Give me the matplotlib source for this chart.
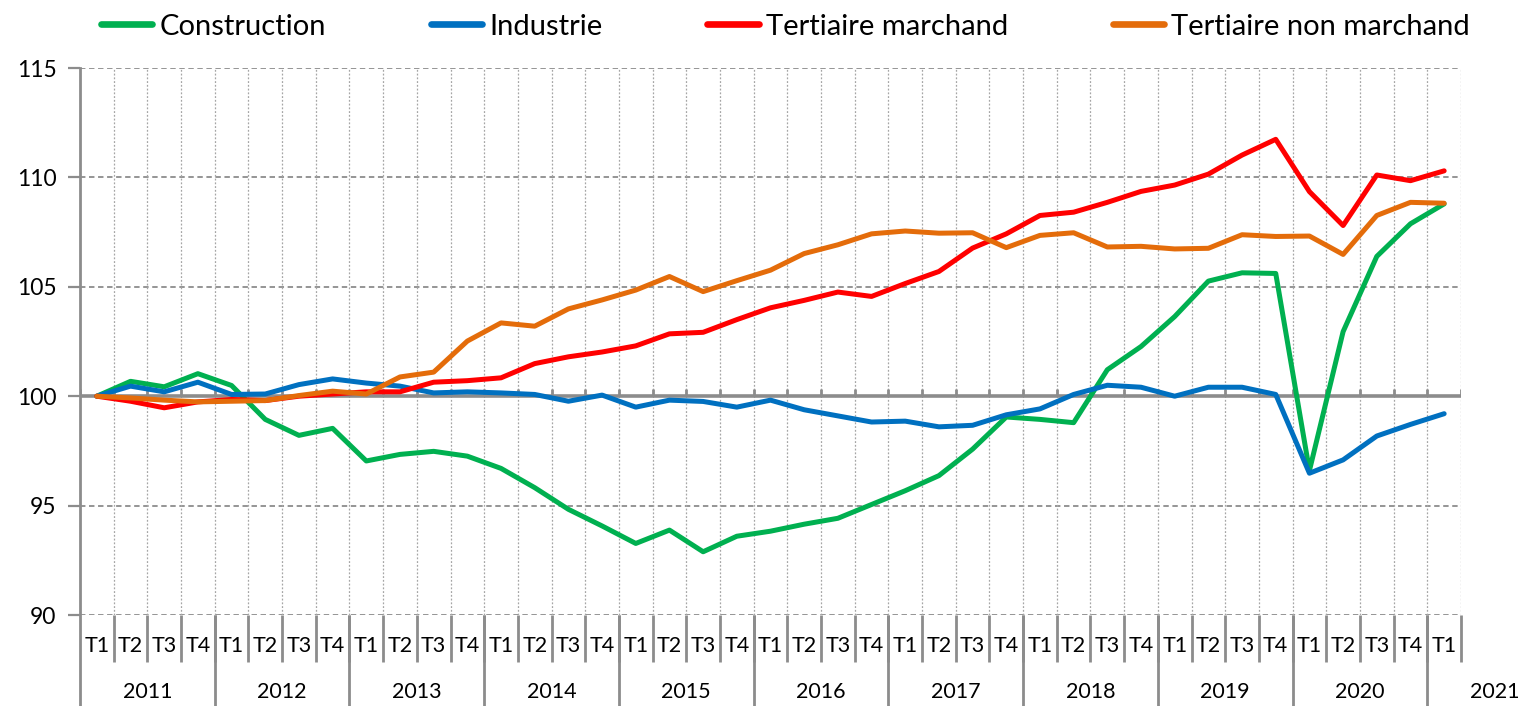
import matplotlib
matplotlib.use("Agg")
import matplotlib.pyplot as plt
import matplotlib.transforms as mtransforms
from matplotlib.lines import Line2D

# ---------------- data ----------------
quarters = ["T1", "T2", "T3", "T4"] * 10 + ["T1"]
years = ["2011", "2012", "2013", "2014", "2015", "2016", "2017", "2018", "2019", "2020", "2021"]
series_names = ["Construction", "Industrie", "Tertiaire marchand", "Tertiaire non marchand"]

construction = [100.0, 100.68, 100.43, 101.03, 100.49, 98.94, 98.21, 98.53, 97.04, 97.34,
                97.48, 97.26, 96.70, 95.82, 94.83, 94.07, 93.27, 93.88, 92.89, 93.60,
                93.83, 94.15, 94.42, 95.05, 95.68, 96.37, 97.58, 99.05, 98.94, 98.79,
                101.21, 102.27, 103.64, 105.26, 105.64, 105.61, 96.60, 102.95, 106.39, 107.88,
                108.79]
industrie = [100.0, 100.46, 100.20, 100.64, 100.08, 100.10, 100.53, 100.79, 100.60, 100.46,
             100.15, 100.20, 100.15, 100.08, 99.77, 100.05, 99.50, 99.82, 99.76, 99.50,
             99.82, 99.38, 99.10, 98.82, 98.86, 98.60, 98.67, 99.15, 99.42, 100.08,
             100.50, 100.41, 100.00, 100.41, 100.41, 100.08, 96.48, 97.09, 98.18, 98.71,
             99.20]
tertiaire_marchand = [100.0, 99.77, 99.47, 99.74, 99.85, 99.80, 100.00, 100.10, 100.20, 100.20,
                      100.64, 100.71, 100.84, 101.49, 101.80, 102.02, 102.30, 102.85, 102.92, 103.50,
                      104.04, 104.38, 104.76, 104.56, 105.15, 105.70, 106.77, 107.42, 108.26, 108.41,
                      108.86, 109.36, 109.65, 110.15, 111.02, 111.74, 109.35, 107.80, 110.11, 109.85,
                      110.30]
tertiaire_non_marchand = [100.0, 99.92, 99.82, 99.74, 99.77, 99.80, 100.03, 100.23, 100.10, 100.88,
                          101.10, 102.52, 103.35, 103.20, 103.99, 104.40, 104.85, 105.47, 104.78, 105.28,
                          105.76, 106.52, 106.92, 107.42, 107.55, 107.45, 107.47, 106.79, 107.35, 107.47,
                          106.82, 106.85, 106.73, 106.76, 107.38, 107.30, 107.32, 106.48, 108.26, 108.86,
                          108.82]
y_ticks = [90, 95, 100, 105, 110, 115]

series = [construction, industrie, tertiaire_marchand, tertiaire_non_marchand]
colors = ["#00B050", "#0070C0", "#FF0000", "#E46C0A"]

# ---------------- style ----------------
plt.rcParams['font.family'] = ['Lato', 'DejaVu Sans']
GRID = "#8C8C8C"
AXIS = "#8C8C8C"

W, H = 1521, 706
fig = plt.figure(figsize=(W / 100, H / 100), dpi=100)
ax_left, ax_right, ax_top, ax_bot = 80, 1461, 68, 615
ax = fig.add_axes([ax_left / W, (H - ax_bot) / H, (ax_right - ax_left) / W, (ax_bot - ax_top) / H])

n = len(quarters)
xs = list(range(n))
ax.set_xlim(-0.5, n - 0.5)
ax.set_ylim(min(y_ticks), max(y_ticks))

for s in ax.spines.values():
    s.set_visible(False)

# horizontal dashed gridlines
for yv in y_ticks:
    if yv != 100:
        ax.axhline(yv, color=GRID, lw=1.3, ls=(0, (3, 2)), zorder=1)
# vertical dotted gridlines at category boundaries
bounds = [k - 0.5 for k in range(1, n + 1)]
ax.vlines(bounds, min(y_ticks), max(y_ticks), colors="#A6A6A6", lw=0.9, linestyles=(0, (1.5, 1.5)), zorder=1)

# category axis crossing at 100 with tick marks
ax.axhline(100, color=AXIS, lw=2.6, zorder=2)
ax.vlines([k - 0.5 for k in range(0, n + 1)], 100, 100.32, colors=AXIS, lw=2.0, zorder=2)

# series
for vals, c in zip(series, colors):
    ax.plot(xs, vals, color=c, lw=3.6, solid_joinstyle="round", solid_capstyle="round", zorder=3)

# y axis
ax.set_yticks(y_ticks)
ax.set_yticklabels([str(v) for v in y_ticks], fontsize=16.5)
ax.tick_params(axis="y", length=9, width=1.6, color=AXIS, pad=8)
ax.set_xticks([])

px = ax_bot - ax_top  # axes height in px
blend = mtransforms.blended_transform_factory(ax.transData, ax.transAxes)


def ay(ypix):
    return -(ypix - ax_bot) / px


# left axis line extending down to figure bottom
ax.plot([-0.5, -0.5], [1.0, ay(H)], transform=blend, color=AXIS, lw=2.0, clip_on=False, zorder=4)

# quarter separators and labels
ax.vlines(bounds, ay(662), 0, transform=blend, colors=AXIS, lw=2.0, clip_on=False)
for i, q in enumerate(quarters):
    ax.text(i, ay(646), q, transform=blend, ha="center", va="center", fontsize=15.5, clip_on=False)

# year separators and labels
year_bounds = [k * 4 - 0.5 for k in range(1, len(years))]
ax.vlines(year_bounds, ay(H), 0, transform=blend, colors=AXIS, lw=2.0, clip_on=False)
for j, yl in enumerate(years):
    if j < len(years) - 1:
        xc = j * 4 + 1.5
    else:
        xc = n + 0.5
    ax.text(xc, ay(692), yl, transform=blend, ha="center", va="center", fontsize=15.5, clip_on=False)

# legend
handles = [Line2D([0], [0], color=c, lw=4.8, solid_capstyle="round") for c in colors]
fig.legend(handles, series_names, ncol=4, loc="upper center", bbox_to_anchor=(0.5165, 1.018),
           frameon=False, fontsize=21, handlelength=1.75, handletextpad=0.25, columnspacing=3.6)

fig.savefig("out.png", dpi=100)
